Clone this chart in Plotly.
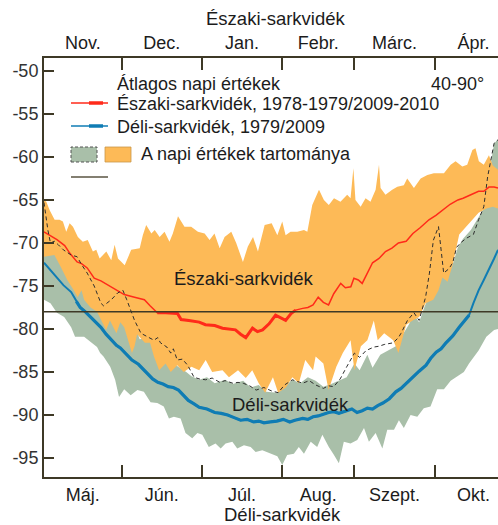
import plotly.graph_objects as go

# ---------------- data ----------------
MONTHS_NORTH = ["Nov.", "Dec.", "Jan.", "Febr.", "Márc.", "Ápr."]
MONTHS_SOUTH = ["Máj.", "Jún.", "Júl.", "Aug.", "Szept.", "Okt."]
MONTH_STARTS = [0, 30, 61, 92, 120, 151, 181]   # day offsets of month boundaries
Y_TICKS = [-50, -55, -60, -65, -70, -75, -80, -85, -90, -95]
REF_LEVEL = -78

# Northern mean (red)
N_MEAN_DAY = [0, 3, 5, 8, 10, 12.8, 14.5, 16.7, 19.4, 22,
              26, 28.5, 31, 35, 38.8, 41, 43.8, 47, 51.6, 53,
              56, 60, 62.4, 66, 69, 72, 74, 76, 78, 80.6,
              82.5, 84.5, 87, 89.5, 91.5, 93.4, 95.5, 97.3, 100, 102,
              104, 106, 108, 110, 112, 114.7, 116.5, 118.6, 119.8, 121.5,
              123, 125, 127, 129.5, 132, 134.5, 137, 140, 142.6, 145.5,
              148.8, 151.5, 154, 157, 160, 162, 165, 168, 170, 172,
              174, 175.5]
N_MEAN = [-68.7, -69.2, -69.6, -70.3, -71.2, -72.2, -72.4, -72.9, -74.1, -74.4,
          -75.1, -75.6, -76.0, -76.3, -76.6, -77.3, -78.1, -78.1, -78.2, -78.9,
          -79.0, -79.2, -79.5, -79.6, -79.9, -80.0, -80.1, -80.6, -81.0, -79.9,
          -80.3, -80.1, -79.4, -78.4, -78.7, -79.0, -78.2, -77.8, -77.6, -77.5,
          -77.2, -76.3, -76.9, -77.2, -75.9, -74.7, -75.2, -75.1, -74.1, -74.3,
          -74.7, -73.5, -72.3, -71.8, -71.0, -70.6, -70.0, -69.8, -68.9, -68.2,
          -67.3, -66.8, -66.2, -65.5, -65.0, -64.8, -64.4, -64.0, -64.0, -63.5,
          -63.5, -63.6]

# Southern mean (blue)
S_MEAN_DAY = [0, 2.5, 5, 7.5, 10.5, 12.5, 14, 16, 18, 20,
              22, 24, 26, 28, 29.5, 32, 34, 36.5, 38.8, 42,
              44, 46, 48, 50, 52, 54, 55.8, 58, 60, 63,
              66, 68.5, 71, 73.5, 76, 78.5, 81, 83, 85, 87.5,
              90, 92.5, 95, 97, 100, 102, 104, 106, 108, 110,
              112, 114, 117, 119, 121, 123, 125, 127, 129, 131,
              133.5, 136, 138, 140, 142.6, 145, 147.7, 149.5, 151.6, 153.5,
              155.4, 158, 160.5, 162.5, 164.3, 166, 168, 170, 172, 174,
              175.5]
S_MEAN = [-72.3, -73.2, -74.0, -74.9, -75.7, -76.8, -77.5, -78.0, -78.6, -79.2,
          -79.8, -80.6, -81.3, -81.9, -82.2, -83.0, -83.6, -84.1, -84.8, -85.8,
          -86.2, -86.4, -86.7, -86.8, -87.1, -87.7, -88.3, -88.7, -89.1, -89.3,
          -89.7, -89.8, -90.0, -90.3, -90.6, -90.5, -90.8, -90.7, -90.9, -90.8,
          -90.7, -90.5, -90.8, -90.6, -90.4, -90.5, -90.2, -90.1, -89.9, -89.7,
          -89.6, -89.8, -89.5, -89.3, -89.7, -89.5, -89.2, -89.3, -88.9, -88.6,
          -88.1, -87.3, -86.9, -86.3, -85.6, -84.9, -84.2, -83.4, -82.7, -82.3,
          -81.6, -80.8, -79.8, -79.0, -78.4, -77.0, -75.5, -74.3, -73.1, -71.8,
          -70.8]

# Northern daily range (orange): maximum and minimum
N_MAX_DAY = [0, 0.9, 2.2, 4.1, 6, 7.3, 8.6, 9.9, 11.2, 13.1,
             15, 16.9, 18.9, 20.2, 21.5, 24.1, 26, 27.3, 28.6, 31.2,
             33.7, 37, 38.2, 39.5, 41.5, 42.8, 44.7, 46.6, 48.5, 49.8,
             51.8, 54.3, 56.9, 59.5, 62.1, 64, 65.9, 67.9, 69.8, 72.4,
             74.3, 76.9, 78.8, 80.8, 82.7, 85.3, 88, 90.2, 92.1, 93.4,
             95.3, 97.9, 100.5, 101.8, 103.7, 106.3, 108.2, 110.1, 112.1, 114.6,
             117.2, 118.5, 119.6, 120.4, 122.4, 124.3, 126.2, 128.2, 129.5, 130.1,
             132, 134.6, 136.6, 139.1, 140.4, 143, 145.6, 148.2, 150.7, 154.6,
             157.2, 159.1, 161.7, 163.6, 165.6, 166.8, 168.1, 170, 172, 173.5,
             175.5]
N_MAX = [-65.0, -65.2, -66.2, -67.3, -67.3, -67.5, -68.7, -67.7, -68.1, -69.3,
         -69.85, -69.65, -71.0, -70.8, -71.8, -71.0, -72.0, -70.2, -71.8, -72.6,
         -70.8, -70.6, -69.1, -67.9, -68.9, -68.5, -69.3, -68.7, -69.85, -68.9,
         -66.9, -68.1, -68.1, -68.7, -68.9, -69.65, -68.9, -70.6, -69.3, -68.7,
         -70.0, -72.2, -70.4, -69.3, -71.0, -67.9, -67.7, -69.1, -67.5, -69.1,
         -68.7, -68.7, -68.5, -68.7, -65.6, -63.8, -65.0, -65.6, -64.8, -65.2,
         -64.4, -64.8, -61.3, -65.0, -65.8, -64.8, -65.2, -63.8, -60.9, -63.6,
         -64.4, -63.8, -63.45, -63.3, -62.5, -63.6, -62.5, -62.1, -61.9, -61.9,
         -60.9, -60.5, -61.1, -60.9, -59.2, -59.0, -60.5, -60.9, -59.8, -61.0,
         -61.5]

N_MIN_DAY = [0, 4, 6.5, 9, 11.5, 13, 14.5, 15.5, 18, 20.5,
             24, 25.5, 28, 29.5, 31, 34, 35, 36, 39, 41,
             42.5, 44.5, 47, 49, 51.5, 54, 57, 60, 62.5, 65,
             69, 71.5, 75, 78, 80.5, 83, 85.5, 88.5, 90.5, 93.5,
             96, 98.5, 101, 104, 105, 108, 110, 113, 115.5, 118.5,
             120, 122.5, 125, 127.5, 129, 131.5, 135, 137, 140, 142.5,
             145, 147.5, 150.5, 152.5, 154, 156, 158, 160.5, 162, 165,
             168, 171, 173.5, 175.5]
N_MIN = [-71.6, -71.4, -72.8, -74.3, -75.5, -76.3, -75.5, -76.6, -77.5, -78.0,
         -80.1, -79.0, -80.5, -79.2, -79.8, -82.8, -82.0, -80.6, -81.6, -81.6,
         -83.2, -84.8, -84.0, -85.0, -84.2, -85.0, -84.4, -84.8, -83.6, -85.0,
         -84.8, -85.6, -84.8, -85.7, -84.8, -86.3, -87.4, -85.6, -87.4, -86.8,
         -85.6, -86.3, -83.6, -84.8, -83.2, -84.0, -87.1, -84.4, -82.8, -81.3,
         -84.8, -82.0, -81.3, -79.0, -81.3, -80.5, -81.3, -82.8, -79.5, -79.0,
         -78.6, -77.0, -76.6, -75.5, -74.0, -74.5, -72.5, -69.0, -68.5, -67.5,
         -66.5, -66.0, -65.8, -66.0]

# Southern daily range (grey-green): upper and lower edge
S_HI_DAY = [0, 5, 10, 15, 20, 25, 30, 35, 37, 40,
            45, 50, 55, 57, 60, 63, 66, 70, 73, 77,
            80, 83, 86, 90, 93, 96, 99, 102, 105, 108,
            111, 114, 117, 120, 122, 125, 127, 130, 133, 136,
            138, 141, 143, 145, 147, 149, 151, 153, 154.5, 156,
            158, 160, 162, 165, 168, 170, 171.5, 173, 174, 175.5]
S_HI = [-66.0, -70.5, -72.0, -73.5, -76.0, -77.5, -77.5, -79.5, -81.2, -81.0,
        -82.5, -84.0, -85.0, -85.5, -85.9, -85.6, -86.3, -85.9, -86.4, -86.0,
        -86.8, -86.5, -87.3, -87.4, -86.7, -85.9, -86.3, -85.6, -86.0, -86.7,
        -86.4, -86.0, -85.6, -84.0, -84.8, -83.0, -84.5, -83.0, -82.5, -82.0,
        -81.0, -79.5, -78.3, -79.2, -77.5, -76.0, -74.5, -73.0, -74.0, -73.5,
        -72.5, -70.5, -69.5, -68.5, -67.0, -66.0, -63.0, -60.0, -58.4, -58.0]

S_LO_DAY = [0, 2.5, 5, 7.8, 10.5, 12, 15.5, 20.5, 21.7, 23,
            25.6, 27.5, 29, 31, 33.5, 36.1, 38.6, 41.2, 43.8, 46.3,
            48.3, 50.2, 52.8, 54.7, 57.3, 59.3, 61.2, 63.7, 66.3, 68.3,
            70.2, 72.8, 74.7, 77.3, 79.9, 81.8, 84.4, 87.6, 90.2, 92.1,
            94.0, 96.6, 98.5, 100.5, 103.1, 105.6, 107.6, 110.1, 112.1, 114,
            115.9, 118.5, 121.1, 123.7, 125.6, 128.2, 130.8, 132.7, 135.3, 137.2,
            139.1, 141.7, 144.3, 146.8, 149.4, 152, 154.6, 157.2, 159.8, 162.3,
            164.3, 168, 171, 174, 175.5]
S_LO = [-76.6, -77.0, -78.1, -78.6, -79.8, -80.9, -80.9, -82.1, -82.8, -83.2,
        -84.4, -85.9, -87.9, -87.0, -87.7, -87.1, -87.3, -88.5, -88.6, -89.0,
        -90.4, -90.2, -90.4, -92.1, -92.7, -92.1, -92.3, -93.7, -93.3, -93.9,
        -93.3, -93.1, -93.9, -93.5, -93.7, -94.3, -94.1, -94.5, -94.8, -95.8,
        -94.65, -94.5, -93.7, -94.5, -93.1, -93.7, -92.3, -93.7, -94.65, -95.6,
        -93.1, -93.3, -92.9, -91.5, -93.1, -92.1, -93.9, -91.7, -91.7, -90.6,
        -91.5, -90.0, -90.2, -89.2, -89.0, -87.0, -87.0, -86.0, -85.5, -85.0,
        -84.0, -82.5, -80.9, -80.1, -80.0]

# Southern range outline (dashed)
S_DASH_DAY = [0, 1.5, 2.5, 4, 5.5, 7.5, 10.5, 12.8, 14.5, 16.7,
              19.4, 22, 23, 24.5, 26, 28.5, 30.5, 32, 35, 37.5,
              40, 42.5, 44, 45, 47.5, 49, 50, 51.5, 53.5, 55.5,
              58, 60, 62.5, 65, 68, 70, 73, 75, 77, 79.5,
              82, 85, 88, 90.5, 93, 96, 98, 100, 102.5, 105,
              108, 110, 112, 114.5, 117, 120, 122, 124.5, 127.5, 129.5,
              131.5, 135, 137, 138, 140.5, 143, 145, 147.5, 149, 150.5,
              152.5, 153.5, 154.5, 156.5, 158, 159.5, 161, 163, 166, 168,
              170, 171.5, 173, 174, 175.5]
S_DASH = [-65.3, -68.5, -70.0, -69.8, -70.2, -70.8, -71.4, -71.6, -72.5, -73.5,
          -75.0, -77.0, -77.3, -76.9, -76.6, -75.8, -75.5, -76.6, -79.0, -80.5,
          -80.9, -81.3, -81.0, -81.6, -82.1, -82.8, -82.3, -83.6, -83.5, -84.2,
          -85.6, -85.8, -85.9, -85.7, -86.2, -86.0, -86.3, -86.2, -86.3, -86.6,
          -87.1, -86.8, -87.2, -87.4, -86.5, -85.9, -86.1, -86.3, -86.0, -86.5,
          -86.9, -86.6, -86.7, -85.8, -84.4, -82.8, -83.3, -82.5, -82.1, -82.0,
          -81.8, -81.6, -81.0, -80.5, -79.0, -78.1, -79.0, -76.3, -73.5, -69.7,
          -68.1, -70.5, -73.5, -73.0, -72.3, -70.5, -70.0, -69.5, -69.0, -67.3,
          -65.8, -62.3, -60.0, -58.4, -58.0]

for a, b in [(N_MEAN_DAY, N_MEAN), (S_MEAN_DAY, S_MEAN), (N_MAX_DAY, N_MAX),
             (N_MIN_DAY, N_MIN), (S_HI_DAY, S_HI), (S_LO_DAY, S_LO),
             (S_DASH_DAY, S_DASH)]:
    assert len(a) == len(b), (len(a), len(b))

# ---------------- style ----------------
ORANGE = "#FDBA57"
GREEN = "#A9BFA9"
RED = "#FF2A1A"
BLUE = "#0F7CB4"
AXIS = "#3E3926"
TEXT = "#1c1c1c"
FONT = "Liberation Sans, Arial, sans-serif"
X_RANGE = [0, 175.5]

# plot area in pixels (used for legend decorations placed in paper units)
L, R, T, B = 44, 498, 58, 477


def px(xp):
    return (xp - L) / (R - L)


def py(yp):
    return (B - yp) / (B - T)


def band(x_hi, y_hi, x_lo, y_lo):
    return list(x_hi) + list(x_lo)[::-1], list(y_hi) + list(y_lo)[::-1]


def subset(days, vals, lo, hi):
    pts = [(d, v) for d, v in zip(days, vals) if lo <= d <= hi]
    return [p[0] for p in pts], [p[1] for p in pts]


fig = go.Figure()

# southern range (below)
bx, by = band(S_HI_DAY, S_HI, S_LO_DAY, S_LO)
fig.add_trace(go.Scatter(x=bx, y=by, fill="toself", fillcolor=GREEN,
                         mode="lines", line=dict(width=0), hoverinfo="skip"))
# northern range (on top)
bx, by = band(N_MAX_DAY, N_MAX, N_MIN_DAY, N_MIN)
fig.add_trace(go.Scatter(x=bx, y=by, fill="toself", fillcolor=ORANGE,
                         mode="lines", line=dict(width=0), hoverinfo="skip"))
# dashed outline of the southern range (on the top day axis)
fig.add_trace(go.Scatter(x=S_DASH_DAY, y=S_DASH, xaxis="x2", mode="lines",
                         line=dict(color="#2e2e2e", width=1, dash="4px,3px"),
                         hoverinfo="skip"))

# reference level
fig.add_hline(y=REF_LEVEL, line=dict(color=AXIS, width=1.5), layer="above")

# mean curves: thin full line plus a heavier middle section
fig.add_trace(go.Scatter(x=N_MEAN_DAY, y=N_MEAN, mode="lines",
                         line=dict(color=RED, width=1.5)))
tx, ty = subset(N_MEAN_DAY, N_MEAN, 43.8, 97.3)
fig.add_trace(go.Scatter(x=tx, y=ty, mode="lines", line=dict(color=RED, width=3)))

fig.add_trace(go.Scatter(x=S_MEAN_DAY, y=S_MEAN, mode="lines",
                         line=dict(color=BLUE, width=2)))
tx, ty = subset(S_MEAN_DAY, S_MEAN, 12, 165)
fig.add_trace(go.Scatter(x=tx, y=ty, mode="lines", line=dict(color=BLUE, width=3.2)))

# month labels centred between boundaries, boundary ticks as minor ticks
mids = [(MONTH_STARTS[i] + MONTH_STARTS[i + 1]) / 2 for i in range(len(MONTH_STARTS) - 1)]
bounds = MONTH_STARTS[1:-1]


def month_axis(labels, **kw):
    d = dict(range=X_RANGE, tickmode="array", tickvals=mids, ticktext=labels,
             ticks="", showgrid=False, zeroline=False, showline=True,
             linecolor=AXIS, linewidth=2,
             tickfont=dict(family=FONT, size=18, color=TEXT),
             minor=dict(tickmode="array", tickvals=bounds, ticks="inside",
                        ticklen=12, tickwidth=1.5, tickcolor=AXIS, showgrid=False))
    d.update(kw)
    return d


fig.update_layout(
    width=498, height=525,
    margin=dict(l=L, r=498 - R, t=T, b=525 - B),
    paper_bgcolor="white", plot_bgcolor="white",
    showlegend=False,
    font=dict(family=FONT, size=18, color=TEXT),
    xaxis=month_axis(MONTHS_SOUTH),
    xaxis2=month_axis(MONTHS_NORTH, overlaying="x", side="top", matches="x"),
    yaxis=dict(range=[-97.2, -48.5], tickmode="array", tickvals=Y_TICKS,
               ticktext=[str(v) for v in Y_TICKS], ticks="inside", ticklen=10,
               tickwidth=1.5, tickcolor=AXIS, showline=True, linecolor=AXIS,
               linewidth=2, showgrid=False, zeroline=False,
               tickfont=dict(family=FONT, size=18, color="#333333")),
)

ann = []
# hemisphere titles
ann.append(dict(text="Északi-sarkvidék", x=px(276), y=py(18), xref="paper", yref="paper",
                showarrow=False, font=dict(size=18.5), xanchor="center", yanchor="middle"))
ann.append(dict(text="Déli-sarkvidék", x=px(282), y=py(514), xref="paper", yref="paper",
                showarrow=False, font=dict(size=18.5), xanchor="center", yanchor="middle"))
# labels inside the plot
ann.append(dict(text="Északi-sarkvidék", x=77.5, y=-74.1, xref="x", yref="y",
                showarrow=False, font=dict(size=18.5), xanchor="center", yanchor="middle"))
ann.append(dict(text="Déli-sarkvidék", x=95.3, y=-88.8, xref="x", yref="y",
                showarrow=False, font=dict(size=18.5), xanchor="center", yanchor="middle"))

# legend block
legend_rows = [
    ("Átlagos napi értékek", 115, 84),
    ("Északi-sarkvidék, 1978-1979/2009-2010", 115, 104),
    ("Déli-sarkvidék, 1979/2009", 115, 127),
    ("A napi értékek tartománya", 139, 154),
]
for text, x0, y0 in legend_rows:
    ann.append(dict(text=text, x=px(x0), y=py(y0), xref="paper", yref="paper",
                    showarrow=False, xanchor="left", yanchor="middle",
                    font=dict(size=18)))
ann.append(dict(text="40-90°", x=px(429), y=py(84), xref="paper", yref="paper",
                showarrow=False, xanchor="left", yanchor="middle", font=dict(size=18)))

shapes = []
for color, yline in [(RED, 103), (BLUE, 126)]:
    shapes.append(dict(type="line", xref="paper", yref="paper",
                       x0=px(71), x1=px(108), y0=py(yline), y1=py(yline),
                       line=dict(color=color, width=1.5)))
    shapes.append(dict(type="line", xref="paper", yref="paper",
                       x0=px(89), x1=px(103), y0=py(yline), y1=py(yline),
                       line=dict(color=color, width=3.5)))
shapes.append(dict(type="rect", xref="paper", yref="paper",
                   x0=px(71), x1=px(97), y0=py(162), y1=py(147),
                   fillcolor=GREEN, line=dict(color="#555555", width=1, dash="3px,2px")))
shapes.append(dict(type="rect", xref="paper", yref="paper",
                   x0=px(105), x1=px(131), y0=py(162), y1=py(147),
                   fillcolor=ORANGE, line=dict(color="#C9984A", width=0.8)))
shapes.append(dict(type="line", xref="paper", yref="paper",
                   x0=px(71), x1=px(108), y0=py(177), y1=py(177),
                   line=dict(color="#5A5442", width=1.5)))

fig.update_layout(annotations=ann, shapes=list(fig.layout.shapes) + shapes)

fig.write_html("out.html")
